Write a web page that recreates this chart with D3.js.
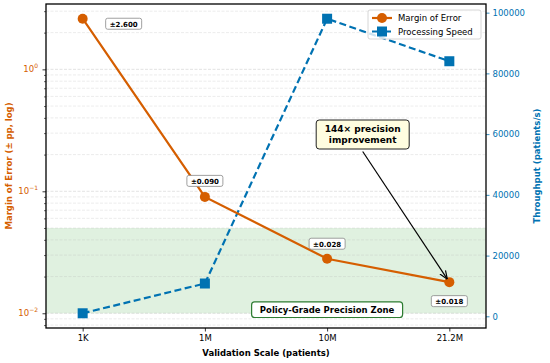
<!DOCTYPE html>
<html>
<head>
<meta charset="utf-8">
<script src="https://cdn.jsdelivr.net/npm/d3@7"></script>
<style>
body { margin: 0; background: #fff; }
text { font-family: "DejaVu Sans", sans-serif; }
</style>
</head>
<body>
<script>
var width = 550;
var height = 363;

// data
var scales = ["1K", "1M", "10M", "21.2M"];
var marginError = [2.6, 0.09, 0.028, 0.018];
var errorLabels = ["±2.600", "±0.090", "±0.028", "±0.018"];
var throughput = [1000, 10800, 98000, 84000];
var rightTicks = [0, 20000, 40000, 60000, 80000, 100000];
var leftTicks = [0.01, 0.1, 1];
var zone = [0.01, 0.05];

var orange = "#d55e00";
var blue = "#0072b2";

var marge = {top: 4, bottom: 35, left: 46, right: 64};
var plotW = width - marge.left - marge.right;
var plotH = height - marge.top - marge.bottom;

var svg = d3.select("body")
    .append("svg")
    .attr("width", width)
    .attr("height", height);

var g = svg.append("g")
    .attr("transform", "translate(" + marge.left + "," + marge.top + ")");

var x = d3.scaleLinear()
    .domain([-0.3, scales.length - 1 + 0.3])
    .range([0, plotW]);

var yLeft = d3.scaleLog()
    .domain([Math.pow(10, -2.1208), Math.pow(10, 0.5358)])
    .range([plotH, 0]);

var yRight = d3.scaleLinear()
    .domain([-3850, 102850])
    .range([plotH, 0]);

// green zone
g.append("rect")
    .attr("x", 0)
    .attr("width", plotW)
    .attr("y", yLeft(zone[1]))
    .attr("height", yLeft(zone[0]) - yLeft(zone[1]))
    .attr("fill", "#2ca02c")
    .attr("fill-opacity", 0.15);

// grid (major + minor on log axis)
var gridVals = [];
[0.001, 0.01, 0.1, 1].forEach(function(dec){
    for (var k = 1; k < 10; k++) {
        var v = dec * k;
        if (v >= yLeft.domain()[0] && v <= yLeft.domain()[1]) gridVals.push(v);
    }
});
g.append("g")
    .selectAll("line")
    .data(gridVals)
    .enter()
    .append("line")
    .attr("x1", 0)
    .attr("x2", plotW)
    .attr("y1", function(d){ return yLeft(d); })
    .attr("y2", function(d){ return yLeft(d); })
    .attr("stroke", "#b0b0b0")
    .attr("stroke-opacity", function(d){
        return leftTicks.indexOf(d) >= 0 ? 0.45 : 0.3;
    })
    .attr("stroke-width", 0.8)
    .attr("stroke-dasharray", "3,1.5");

// left axis
var leftAxis = d3.axisLeft(yLeft)
    .tickValues(leftTicks)
    .tickSize(3.5)
    .tickFormat("");
var la = g.append("g").call(leftAxis);
la.select(".domain").remove();
la.selectAll("line").attr("stroke", "#000").attr("stroke-width", 0.8);

var minorAxis = d3.axisLeft(yLeft)
    .tickValues(gridVals.filter(function(d){ return leftTicks.indexOf(d) < 0; }))
    .tickSize(2)
    .tickFormat("");
var lm = g.append("g").call(minorAxis);
lm.select(".domain").remove();
lm.selectAll("line").attr("stroke", "#000").attr("stroke-width", 0.6);

var expo = {0.01: "\u22122", 0.1: "\u22121", 1: "0"};
leftTicks.forEach(function(t){
    var tx = g.append("text")
        .attr("x", -8)
        .attr("y", yLeft(t) + 3)
        .attr("text-anchor", "end")
        .attr("fill", orange)
        .attr("font-size", 8.5);
    tx.append("tspan").text("10");
    tx.append("tspan")
        .attr("dy", -4)
        .attr("font-size", 6)
        .text(expo[t]);
});

// right axis
var rightAxis = d3.axisRight(yRight)
    .tickValues(rightTicks)
    .tickSize(3.5)
    .tickPadding(3)
    .tickFormat(d3.format("d"));
var ra = g.append("g")
    .attr("transform", "translate(" + plotW + ",0)")
    .call(rightAxis);
ra.select(".domain").remove();
ra.selectAll("line").attr("stroke", blue).attr("stroke-width", 0.8);
ra.selectAll("text")
    .attr("fill", blue)
    .attr("font-size", 8.5)
    .style("font-family", "DejaVu Sans");

// x axis
var xAxis = d3.axisBottom(x)
    .tickValues(d3.range(scales.length))
    .tickSize(3.5)
    .tickPadding(3)
    .tickFormat(function(d){ return scales[d]; });
var xa = g.append("g")
    .attr("transform", "translate(0," + plotH + ")")
    .call(xAxis);
xa.select(".domain").remove();
xa.selectAll("line").attr("stroke", "#000").attr("stroke-width", 0.8);
xa.selectAll("text")
    .attr("fill", "#000")
    .attr("font-size", 8.5)
    .style("font-family", "DejaVu Sans");

// throughput line
var lineR = d3.line()
    .x(function(d, i){ return x(i); })
    .y(function(d){ return yRight(d); });
g.append("path")
    .datum(throughput)
    .attr("d", lineR)
    .attr("fill", "none")
    .attr("stroke", blue)
    .attr("stroke-width", 2.2)
    .attr("stroke-dasharray", "7,3.5");
g.append("g")
    .selectAll("rect")
    .data(throughput)
    .enter()
    .append("rect")
    .attr("x", function(d, i){ return x(i) - 5; })
    .attr("y", function(d){ return yRight(d) - 5; })
    .attr("width", 10)
    .attr("height", 10)
    .attr("fill", blue);

// margin of error line
var lineL = d3.line()
    .x(function(d, i){ return x(i); })
    .y(function(d){ return yLeft(d); });
g.append("path")
    .datum(marginError)
    .attr("d", lineL)
    .attr("fill", "none")
    .attr("stroke", orange)
    .attr("stroke-width", 2.2);
g.append("g")
    .selectAll("circle")
    .data(marginError)
    .enter()
    .append("circle")
    .attr("cx", function(d, i){ return x(i); })
    .attr("cy", function(d){ return yLeft(d); })
    .attr("r", 5)
    .attr("fill", orange);

// value labels
var labelOffsets = [[41, 5], [0, -16], [0, -15], [0, 19]];
marginError.forEach(function(d, i){
    var cx = x(i) + labelOffsets[i][0];
    var cy = yLeft(d) + labelOffsets[i][1];
    var lg = g.append("g").attr("transform", "translate(" + cx + "," + cy + ")");
    lg.append("rect")
        .attr("x", -18)
        .attr("y", -5.5)
        .attr("width", 36)
        .attr("height", 11)
        .attr("rx", 2)
        .attr("fill", "#fff")
        .attr("stroke", "#888")
        .attr("stroke-width", 0.8);
    lg.append("text")
        .attr("text-anchor", "middle")
        .attr("y", 3)
        .attr("font-size", 7)
        .attr("font-weight", "bold")
        .text(errorLabels[i]);
});

// zone label
var zg = g.append("g")
    .attr("transform", "translate(" + x(2) + "," + (yLeft(0.0107)) + ")");
zg.append("rect")
    .attr("x", -75.5)
    .attr("y", -7.8)
    .attr("width", 151)
    .attr("height", 15.6)
    .attr("rx", 3)
    .attr("fill", "#fff")
    .attr("stroke", "#2e7d32")
    .attr("stroke-width", 1.2);
zg.append("text")
    .attr("text-anchor", "middle")
    .attr("y", 3.2)
    .attr("font-size", 8.5)
    .attr("font-weight", "bold")
    .text("Policy-Grade Precision Zone");

// arrow annotation
svg.append("defs").append("marker")
    .attr("id", "arrow")
    .attr("viewBox", "0 0 10 10")
    .attr("refX", 10)
    .attr("refY", 5)
    .attr("markerWidth", 7)
    .attr("markerHeight", 7)
    .attr("orient", "auto")
    .append("path")
    .attr("d", "M0,1 L10,5 L0,9")
    .attr("fill", "none")
    .attr("stroke", "#000")
    .attr("stroke-width", 1.4);

var ax0 = 362.7 - marge.left, ay0 = 151.5 - marge.top;
var tx = x(3) - 2, ty = yLeft(marginError[3]) - 3;
g.append("line")
    .attr("x1", ax0)
    .attr("y1", ay0)
    .attr("x2", tx)
    .attr("y2", ty)
    .attr("stroke", "#000")
    .attr("stroke-width", 1.2)
    .attr("marker-end", "url(#arrow)");

var ag = g.append("g")
    .attr("transform", "translate(" + ax0 + "," + (134.5 - marge.top) + ")");
ag.append("rect")
    .attr("x", -46.5)
    .attr("y", -14.5)
    .attr("width", 93)
    .attr("height", 29)
    .attr("rx", 3)
    .attr("fill", "#fffde0")
    .attr("stroke", "#222")
    .attr("stroke-width", 1);
ag.append("text")
    .attr("text-anchor", "middle")
    .attr("y", -3)
    .attr("font-size", 9)
    .attr("font-weight", "bold")
    .text("144× precision");
ag.append("text")
    .attr("text-anchor", "middle")
    .attr("y", 8.5)
    .attr("font-size", 9)
    .attr("font-weight", "bold")
    .text("improvement");

// frame
g.append("rect")
    .attr("width", plotW)
    .attr("height", plotH)
    .attr("fill", "none")
    .attr("stroke", "#000")
    .attr("stroke-width", 1.3);

// legend
var leg = g.append("g")
    .attr("transform", "translate(" + (plotW - 118) + ",6)");
leg.append("rect")
    .attr("width", 113)
    .attr("height", 29)
    .attr("rx", 2)
    .attr("fill", "#fff")
    .attr("fill-opacity", 0.8)
    .attr("stroke", "#ccc")
    .attr("stroke-width", 0.8);
var legItems = [
    {name: "Margin of Error", color: orange, shape: "circle"},
    {name: "Processing Speed", color: blue, shape: "square"}
];
legItems.forEach(function(it, i){
    var ly = 8 + i * 13.5;
    leg.append("line")
        .attr("x1", 4)
        .attr("x2", 24)
        .attr("y1", ly)
        .attr("y2", ly)
        .attr("stroke", it.color)
        .attr("stroke-width", 2.2)
        .attr("stroke-dasharray", it.shape === "square" ? "5,2" : null);
    if (it.shape === "circle") {
        leg.append("circle").attr("cx", 14).attr("cy", ly).attr("r", 5).attr("fill", it.color);
    } else {
        leg.append("rect").attr("x", 9).attr("y", ly - 5).attr("width", 10).attr("height", 10).attr("fill", it.color);
    }
    leg.append("text")
        .attr("x", 30)
        .attr("y", ly + 3)
        .attr("font-size", 8.5)
        .text(it.name);
});

// axis titles
svg.append("text")
    .attr("x", marge.left + plotW / 2)
    .attr("y", 356)
    .attr("text-anchor", "middle")
    .attr("font-size", 8.5)
    .attr("font-weight", "bold")
    .text("Validation Scale (patients)");

svg.append("text")
    .attr("transform", "translate(12," + (marge.top + plotH / 2) + ") rotate(-90)")
    .attr("text-anchor", "middle")
    .attr("font-size", 8.5)
    .attr("font-weight", "bold")
    .attr("fill", orange)
    .text("Margin of Error (± pp, log)");

svg.append("text")
    .attr("transform", "translate(540," + (marge.top + plotH / 2) + ") rotate(-90)")
    .attr("text-anchor", "middle")
    .attr("font-size", 8.5)
    .attr("font-weight", "bold")
    .attr("fill", blue)
    .text("Throughput (patients/s)");
</script>
</body>
</html>
